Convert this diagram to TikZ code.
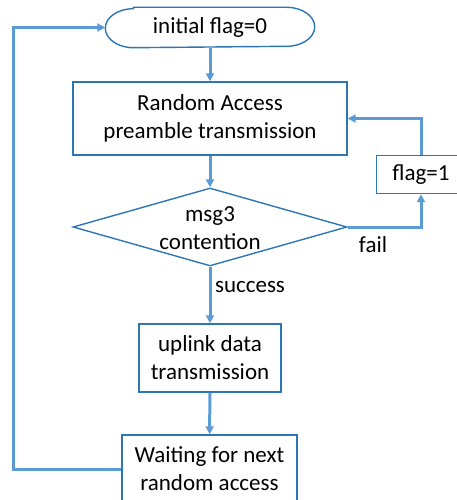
\documentclass[tikz,border=0pt]{standalone}
\usepackage{fontspec}
\setmainfont{Carlito}
\usetikzlibrary{shapes.geometric,arrows.meta}
\definecolor{flowline}{RGB}{91,155,213}
\definecolor{flowedge}{RGB}{46,117,182}

\begin{document}
\begin{tikzpicture}[x=1pt,y=-1pt,
  box/.style={draw=flowedge, line width=1.4pt, align=center, inner sep=0pt,
    font=\fontsize{23}{28}\selectfont},
  term/.style={box, draw=none, minimum width=208pt, minimum height=39pt},
  decision/.style={draw=flowedge, line width=1.4pt, diamond, inner sep=0pt,
    minimum width=274pt, minimum height=78pt},
  flow/.style={draw=flowline, line width=3pt, -{Triangle[length=8pt,width=8pt]}},
  lbl/.style={font=\fontsize{23}{28}\selectfont}]

\useasboundingbox (0,0) rectangle (456,500);

% Steps
\node[term] (init) at (210,27.5) {initial flag=0};
\draw[flowedge, line width=1.4pt] ([xshift=28pt]init.north west)
  -- ([xshift=-28pt]init.north east)
  arc[start angle=90, end angle=-90, x radius=28pt, y radius=19.5pt]
  -- ([xshift=28pt]init.south west)
  arc[start angle=270, end angle=90, x radius=28pt, y radius=19.5pt] -- cycle;
\node[box, minimum width=274pt, minimum height=73pt] (rapt) at (210,118.5)
  {Random Access\\preamble transmission};
\node[decision] (msg) at (210,227) {};
\node[lbl, align=center] (msgtxt) at (210,228.5) {msg3\\contention};
\node[box, minimum width=89pt, minimum height=38pt] (flag) at (421,174.5) {flag=1};
\node[box, minimum width=142pt, minimum height=68pt] (uplink) at (210,358)
  {uplink data\\transmission};
\node[box, minimum width=175pt, minimum height=68pt] (wait) at (209.5,469)
  {Waiting for next\\random access};
\coordinate (loop) at (13,469);

% Connectors
\draw[flow] (init) -- (rapt);
\draw[flow] (rapt) -- (msg);
\draw[flow] (msg.east) -| (flag.south);
\node[lbl] (fail) at (373,245) {fail};
\draw[flow] (flag.north) |- (rapt.east);
\draw[flow] (msg) -- (uplink);
\node[lbl] (success) at (250,287) {success};
\draw[flow] (uplink) -- (wait);
\draw[flow] (wait.west) -- (loop) |- (init.west);

\end{tikzpicture}
\end{document}
